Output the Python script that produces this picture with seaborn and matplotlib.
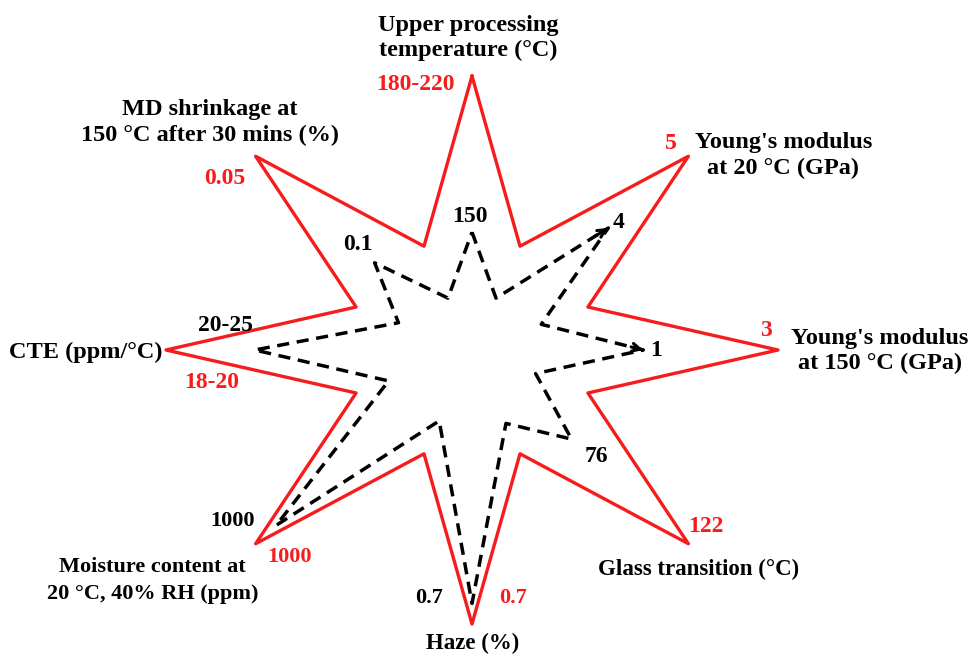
import numpy as np
import pandas as pd
import matplotlib.pyplot as plt
import seaborn as sns

# star axes, clockwise from the top
properties = ["Upper processing\ntemperature (°C)",
              "Young's modulus\nat 20 °C (GPa)",
              "Young's modulus\nat 150 °C (GPa)",
              "Glass transition (°C)",
              "Haze (%)",
              "Moisture content at\n20 °C, 40% RH (ppm)",
              "CTE (ppm/°C)",
              "MD shrinkage at\n150 °C after 30 mins (%)"]
target_values = ["180-220", "5", "3", "122", "0.7", "1000", "18-20", "0.05"]
achieved_values = ["150", "4", "1", "76", "0.7", "1000", "20-25", "0.1"]

# radial positions (outer star tip = 1)
target_tip = [1.0, 1.0, 1.0, 1.0, 1.0, 1.0, 1.0, 1.0]
target_notch = [0.41, 0.41, 0.41, 0.41, 0.41, 0.41, 0.41, 0.41]
achieved_tip = [0.43, 0.63, 0.56, 0.46, 0.925, 0.905, 0.71, 0.45]
achieved_notch = [0.205, 0.245, 0.225, 0.29, 0.28, 0.295, 0.26, 0.205]


def star_xy(tips, notches):
    n = len(tips)
    ang, rad = [], []
    for k in range(n):
        ang += [k * 2 * np.pi / n, (k + 0.5) * 2 * np.pi / n]
        rad += [tips[k], notches[k]]
    ang.append(ang[0])
    rad.append(rad[0])
    ang, rad = np.array(ang), np.array(rad)
    return pd.DataFrame({"x": rad * np.sin(ang), "y": rad * np.cos(ang),
                         "order": np.arange(len(ang))})


sns.set_style("white")
plt.rcParams["font.family"] = ["Liberation Serif", "DejaVu Serif"]
plt.rcParams["font.weight"] = "bold"

fig = plt.figure(figsize=(9.69, 6.55), dpi=100)
ax = fig.add_axes([0, 0, 1, 1])

target = star_xy(target_tip, target_notch)
achieved = star_xy(achieved_tip, achieved_notch)

sns.lineplot(data=target, x="x", y="y", sort=False, estimator=None,
             color="#f71c1c", lw=2.4, ax=ax)
sns.lineplot(data=achieved, x="x", y="y", sort=False, estimator=None,
             color="black", lw=2.5, linestyle=(0, (3.5, 2.2)), ax=ax)

# small arrowheads on two of the dashed tips
for k in [1, 2]:
    tip = achieved.iloc[2 * k][["x", "y"]].to_numpy(float)
    prev = achieved.iloc[2 * k - 1][["x", "y"]].to_numpy(float)
    ax.annotate("", xy=tip, xytext=tip - 0.12 * (tip - prev),
                arrowprops=dict(arrowstyle="->", color="black", lw=2.2,
                                mutation_scale=14, shrinkA=0, shrinkB=0))

# label offsets in pixels from the vertices, and font sizes
name_off = [(-4, 38), (95, 1), (102, -1), (10, -26), (1, -19), (-103, -37), (-80, -2), (-46, 34)]
name_size = [17.5, 17.5, 17.5, 16.5, 16.5, 16, 17.5, 17.5]
name_spacing = [1.28, 1.28, 1.28, 1.2, 1.2, 1.45, 1.2, 1.28]
red_off = [(-57, -9), (-17, 13), (-12, 20), (17, 17), (41, 26), (34, -13), (46, -32), (-31, -22)]
black_off = [(-2, 16), (10, 5), (13, -1), (25, -17), (-43, 5), (-44, 4), (-29, 25), (-17, 18)]
value_size = [17, 17, 17, 17, 16, 16, 17, 17]

for k in range(8):
    tpt = (target.x[2 * k], target.y[2 * k])
    apt = (achieved.x[2 * k], achieved.y[2 * k])
    ax.annotate(properties[k], xy=tpt, xytext=name_off[k], textcoords="offset pixels",
                ha="center", va="center", fontsize=name_size[k], fontweight="bold",
                color="black", linespacing=name_spacing[k])
    ax.annotate(target_values[k], xy=tpt, xytext=red_off[k], textcoords="offset pixels",
                ha="center", va="center", fontsize=value_size[k], fontweight="bold",
                color="#f71c1c")
    ax.annotate(achieved_values[k], xy=apt, xytext=black_off[k], textcoords="offset pixels",
                ha="center", va="center", fontsize=value_size[k], fontweight="bold",
                color="black")

rx, ry = 306, 274
cx, cy = 472, 350
ax.set_xlim(-cx / rx, (969 - cx) / rx)
ax.set_ylim(-(655 - cy) / ry, cy / ry)
ax.axis("off")

plt.savefig("out.png", dpi=100)
